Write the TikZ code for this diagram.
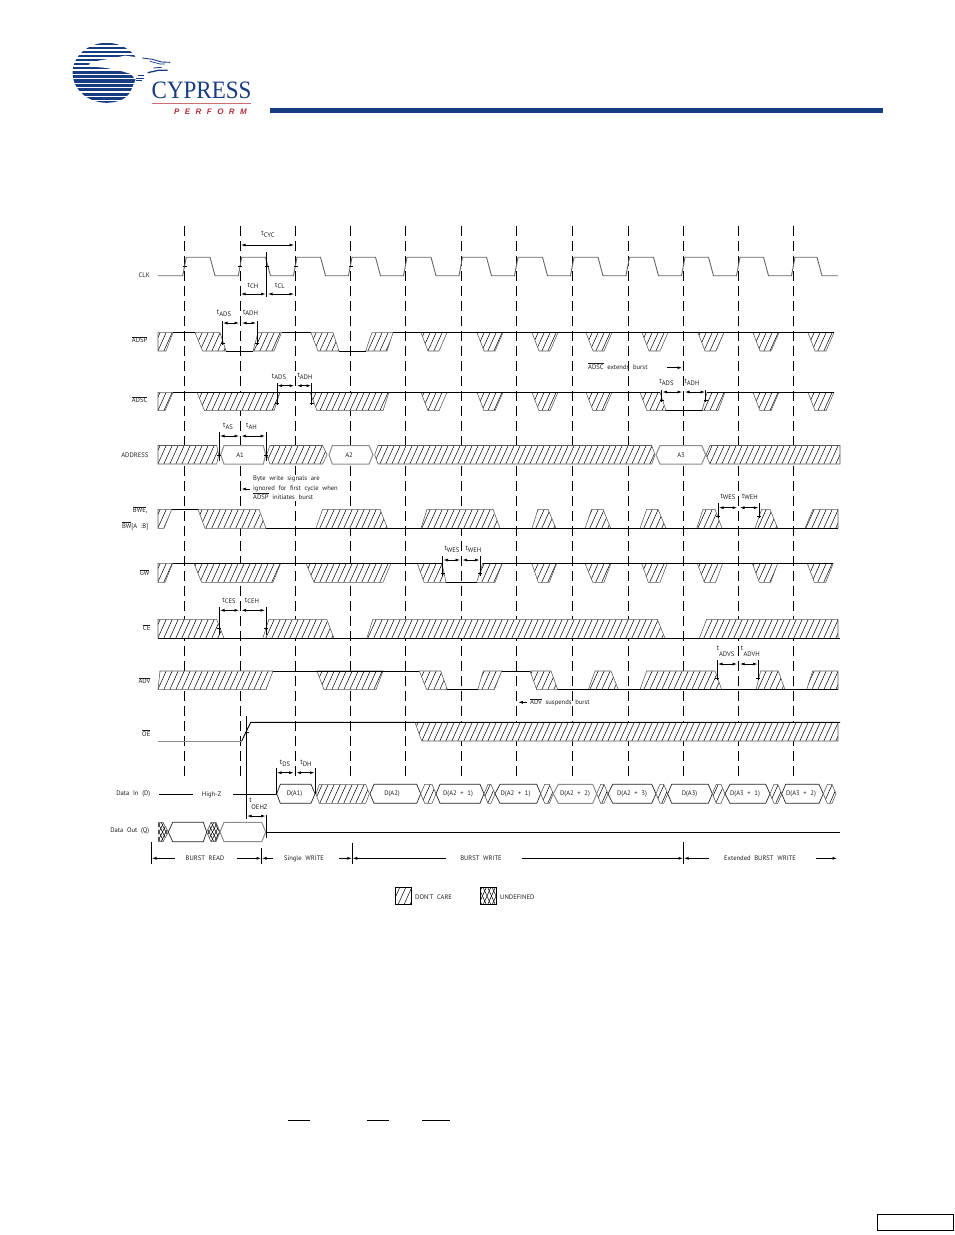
\documentclass[tikz,border=0pt]{standalone}
\usepackage{fontspec}
\setmainfont[WordSpace=2.1]{PT Sans}
\newfontfamily\cyfont{Liberation Serif}
\newfontfamily\perffont[LetterSpace=68]{Liberation Sans}
\usetikzlibrary{arrows.meta}
\definecolor{navy}{HTML}{173C82}
\definecolor{cyred}{HTML}{B5303A}
\tikzset{
 sig/.style={line width=0.9pt,black},
 clk/.style={line width=0.9pt,black!60},
 edgeln/.style={line width=0.55pt,black!65},
 hl/.style={line width=0.5pt,black},
 hexb/.style={line width=0.7pt,black!85,fill=white},
 hexg/.style={line width=1pt,black!45,fill=white},
 dimarrow/.style={line width=0.7pt,black,{Latex[length=4.5pt,width=3pt]}-{Latex[length=4.5pt,width=3pt]}},
 onearrow/.style={line width=0.7pt,black,-{Latex[length=4.5pt,width=3pt]}},
 vmark/.style={line width=0.7pt,black},
 dashln/.style={line width=0.9pt,black,dash pattern=on 9.5pt off 5.5pt},
 lab/.style={font=\fontsize{6.6}{8}\selectfont,inner sep=0pt,text=black!88},
}
\newcommand{\ovl}[1]{$\overline{\hbox{#1}}$}
\newcommand{\tlab}[1]{{\fontsize{7}{8}\selectfont t}\raisebox{-1.6pt}{#1}}
% ytop ybot xmin xmax path
\newcommand{\HPoly}[5]{%
 \fill[white] #5 -- cycle;
 \begin{scope}
 \clip #5 -- cycle;
 \pgfmathtruncatemacro\ka{floor((#3-10)/6.0)}
 \pgfmathtruncatemacro\kb{ceil((#4+10)/6.0)}
 \pgfmathsetmacro\dd{0.225*(#2-#1)}
 \foreach \k in {\ka,...,\kb}{\draw[hl] ({\k*6.0-\dd},#2) -- ({\k*6.0+\dd},#1);}
 \end{scope}
 \draw[edgeln] #5 -- cycle;
}
% ytop ybot tl bl br tr
\newcommand{\HTrap}[6]{%
 \pgfmathsetmacro\xa{min(#3,#4)}\pgfmathsetmacro\xb{max(#5,#6)}
 \HPoly{#1}{#2}{\xa}{\xb}{(#3,#1)--(#6,#1)--(#5,#2)--(#4,#2)}
}
% small hatched hexagon between two data boxes: a, b
\newcommand{\SmX}[2]{%
 \pgfmathsetmacro\xa{#1+4}\pgfmathsetmacro\xb{#2-4}
 \HPoly{784.3}{803.3}{#1}{#2}{(#1,793.8)--(\xa,784.3)--(\xb,784.3)--(#2,793.8)--(\xb,803.3)--(\xa,803.3)}
}
% hex box
\newcommand{\Bx}[7]{\draw[#7] (#1,#6) -- (#2,#5) -- (#3,#5) -- (#4,#6) -- (#3,{2*#6-#5}) -- (#2,{2*#6-#5}) -- cycle;}
\newcommand{\Vm}[4]{\draw[vmark] (#1,#2) -- (#1,#3); \draw[vmark] ({#1-2},#4) -- ({#1+2},#4);}
\newcommand{\DimA}[3]{\draw[dimarrow] (#1,#3) -- (#2,#3);}
\begin{document}
\begin{tikzpicture}[x=1pt,y=-1pt]
\useasboundingbox (0,0) rectangle (954,1235);
\fill[white] (0,0) rectangle (954,1235);

% --- logo
\begin{scope}
 \clip (106.6,72.8) ellipse [x radius=34,y radius=30];
 \foreach \yy/\th in {44/1.8,48/1.9,52/2,56/2,60/2,64/2.2,68/2.4,72.3/2.8,76.6/3.1,81/3.3,85.4/3.3,89.8/3.3,94.2/3.3,98.6/3.2,102/2.6}
  \fill[navy] (70,\yy-\th/2) rectangle (142,\yy+\th/2);
\end{scope}
\begin{scope}[shift={(65,38)},scale=1/3]
 \fill[white] (70,78) -- (100,68) -- (135,62) -- (180,53) -- (235,60) -- (262,74) -- (235,82) -- (250,95) -- (232,125) -- (215,160) -- (180,205) -- (165,195) -- (195,165) -- (212,125) -- (198,108) -- (165,98) -- (125,90) -- (85,86) -- cycle;
 \draw[navy,line width=0.9pt] (232,60) -- (262,64) -- (290,72) -- (315,73);
 \draw[navy,line width=0.7pt] (255,70) -- (285,78) -- (300,78);
 \draw[navy,line width=1.3pt] (248,104) -- (280,97) -- (308,97);
 \draw[navy,line width=0.8pt] (265,90) -- (290,88);
 \fill[navy] (218,110) rectangle (236,115);
 \fill[navy] (214,119) rectangle (238,124);
 \fill[navy] (212,127) rectangle (232,130);
\end{scope}
\node[inner sep=0pt,anchor=base west,text=navy,xscale=0.92,font=\cyfont\fontsize{25}{25}\selectfont] (cy) at (151.5,98.6) {CYPRESS};
\draw[cyred!70,line width=0.5pt] (152,102.8) -- (251,102.8);
\node[inner sep=0pt,anchor=base west,text=cyred,font=\perffont\bfseries\itshape\fontsize{8}{8}\selectfont] (perf) at (174,114) {PERFORM};
\fill[navy] (270,108) rectangle (883,113);

% --- dashed clock guides
\foreach \gx in {184,240.5,295.5,350.5,405.5,461,516.5,572.5,628,683.5,738.5,793.5}
 \draw[dashln] (\gx,226) -- (\gx,778);

% --- CLK
\draw[clk] (158,275.7) -- (182.7,275.7) -- (186.3,257.2)
 -- (210,257.2) -- (215,275.7) -- (238.3,275.7) -- (241.7,257.2)
 -- (265.5,257.2) -- (270.5,275.7) -- (293.5,275.7) -- (297,257.2)
 -- (320.5,257.2) -- (325.5,275.7) -- (348.5,275.7) -- (352,257.2)
 -- (375.5,257.2) -- (380.5,275.7) -- (403.5,275.7) -- (407,257.2)
 -- (431,257.2) -- (436,275.7) -- (459,275.7) -- (462.5,257.2)
 -- (486.5,257.2) -- (491.5,275.7) -- (514.5,275.7) -- (518,257.2)
 -- (542.5,257.2) -- (547.5,275.7) -- (570.5,275.7) -- (574,257.2)
 -- (598,257.2) -- (603,275.7) -- (626,275.7) -- (629.5,257.2)
 -- (653.5,257.2) -- (658.5,275.7) -- (681.5,275.7) -- (685,257.2)
 -- (708.5,257.2) -- (713.5,275.7) -- (736.5,275.7) -- (740,257.2)
 -- (763.5,257.2) -- (768.5,275.7) -- (791.5,275.7) -- (795,257.2)
 -- (817,257.2) -- (822,275.7) -- (838,275.7);
\foreach \gx in {184.5,240,295.5,350.5} \draw[vmark] (\gx-2,266) -- (\gx+2,266);

% --- ADSP
\HTrap{332.6}{351}{158}{158}{166}{173}
\HTrap{332.6}{351}{195}{202.6}{226}{220}
\HTrap{332.6}{351}{258}{253}{274}{281.5}
\HTrap{332.6}{351}{311}{318}{339}{333}
\HTrap{332.6}{351}{372}{365.6}{387}{393}
\foreach \tt in {421,477,532,586,642,698,753,808}
 {\pgfmathsetmacro\ta{\tt+7}\pgfmathsetmacro\tb{\tt+18}\pgfmathsetmacro\tc{\tt+26}
 \HTrap{332.6}{351}{\tt}{\ta}{\tb}{\tc}}
\draw[sig] (173,332.6) -- (195,332.6) (226,351) -- (253,351) (281.5,332.6) -- (311,332.6) (339,351) -- (365.6,351) (393,332.6) -- (834,332.6);

% --- ADSC
\HTrap{392.3}{410.7}{158}{158}{165}{173}
\HTrap{392.3}{410.7}{197}{204.5}{274}{280}
\HTrap{392.3}{410.7}{310}{317}{383}{389}
\foreach \tt in {421,477,532,586,753,808}
 {\pgfmathsetmacro\ta{\tt+7}\pgfmathsetmacro\tb{\tt+18}\pgfmathsetmacro\tc{\tt+26}
 \HTrap{392.3}{410.7}{\tt}{\ta}{\tb}{\tc}}
\HTrap{392.3}{410.7}{640}{647}{666}{660}
\HTrap{392.3}{410.7}{707}{702}{718}{725}
\draw[sig] (173,392.3) -- (660,392.3) (666,410.7) -- (702,410.7) (707,392.3) -- (834,392.3);

% --- ADDRESS
\HPoly{445.5}{464}{158}{219}{(158,445.5)--(216.7,445.5)--(218.7,454.8)--(216.7,464)--(158,464)}
\Bx{220.7}{224}{263.3}{265.7}{445.5}{454.8}{hexg}
\HPoly{445.5}{464}{266}{327}{(266.7,454.8)--(270,445.5)--(322.7,445.5)--(327,454.8)--(322.7,464)--(270,464)}
\Bx{329}{332.3}{369}{373}{445.5}{454.8}{hexg}
\HPoly{445.5}{464}{374}{655}{(374.7,454.8)--(378,445.5)--(651.7,445.5)--(655,454.8)--(651.7,464)--(378,464)}
\Bx{656}{660}{701.7}{705.7}{445.5}{454.8}{hexg}
\HPoly{445.5}{464}{706}{840}{(706,454.8)--(710,445.5)--(840,445.5)--(840,464)--(710,464)}

% --- BWE
\def\bwt{509.3}\def\bwb{528.3}
\HTrap{\bwt}{\bwb}{158}{158}{164}{171.7}
\HTrap{\bwt}{\bwb}{198}{205}{266}{259}
\HTrap{\bwt}{\bwb}{322.6}{316}{387.5}{380}
\HTrap{\bwt}{\bwb}{427}{421}{500}{493}
\HTrap{\bwt}{\bwb}{538}{532}{556}{548}
\HTrap{\bwt}{\bwb}{591.7}{585}{610.7}{603}
\HTrap{\bwt}{\bwb}{646.7}{640}{666}{658}
\HTrap{\bwt}{\bwb}{703}{696.7}{722}{715}
\HTrap{\bwt}{\bwb}{761.7}{755}{777.7}{770}
\HTrap{\bwt}{\bwb}{813}{805}{838}{838}
\draw[sig] (171.7,\bwt) -- (198,\bwt) (266,\bwb) -- (838,\bwb);

% --- GW
\def\gwt{563.3}\def\gwb{582.3}
\HTrap{\gwt}{\gwb}{158}{158}{165}{172.7}
\HTrap{\gwt}{\gwb}{194}{201.6}{273}{280.7}
\HTrap{\gwt}{\gwb}{306}{314}{383}{391}
\HTrap{\gwt}{\gwb}{417.3}{424}{446}{442}
\HTrap{\gwt}{\gwb}{482.7}{476.7}{495}{502.3}
\HTrap{\gwt}{\gwb}{531.7}{538.3}{549.3}{556.7}
\HTrap{\gwt}{\gwb}{585}{592.7}{604}{611}
\HTrap{\gwt}{\gwb}{641.7}{648.3}{660}{667.3}
\HTrap{\gwt}{\gwb}{697.3}{704.3}{715.7}{722.7}
\HTrap{\gwt}{\gwb}{752.3}{759.3}{770.7}{777.7}
\HTrap{\gwt}{\gwb}{807.3}{814.3}{825.7}{833.3}
\draw[sig] (172.7,\gwt) -- (442,\gwt) (446,\gwb) -- (476.7,\gwb) (482.7,\gwt) -- (833.3,\gwt);

% --- CE
\def\cet{619.3}\def\ceb{638.3}
\HTrap{\cet}{\ceb}{158}{158}{224}{216.7}
\HTrap{\cet}{\ceb}{269}{262.7}{334}{326.7}
\HTrap{\cet}{\ceb}{373}{366.7}{665}{657.3}
\HTrap{\cet}{\ceb}{706.7}{699.3}{838}{838}
\draw[sig] (158,\ceb) -- (840,\ceb);

% --- ADV
\def\avt{671}\def\avb{689.6}
\HTrap{\avt}{\avb}{160}{158}{266}{273}
\HTrap{\avt}{\avb}{317}{324}{376}{383}
\HTrap{\avt}{\avb}{419.3}{426.7}{447.3}{440.7}
\HTrap{\avt}{\avb}{483.3}{477.7}{494.3}{501.7}
\HTrap{\avt}{\avb}{530}{536.7}{557.7}{551}
\HTrap{\avt}{\avb}{595}{588.3}{618.3}{611}
\HTrap{\avt}{\avb}{646.7}{640}{721.7}{715}
\HTrap{\avt}{\avb}{760.7}{756}{785}{778.3}
\HTrap{\avt}{\avb}{812.7}{806.7}{838}{838}
\draw[sig] (273,\avt) -- (419.3,\avt) (447.3,\avb) -- (477.7,\avb) (501.7,\avt) -- (530,\avt) (557.7,\avb) -- (838,\avb);

% --- OE
\HTrap{722.3}{741}{415}{421.7}{838}{838}
\draw[line width=0.9pt,black!45] (158,741) -- (241.7,741);
\draw[sig] (241.7,741) -- (250.7,722.3) -- (840,722.3);

% --- Data In
\draw[sig] (159.3,794.3) -- (193.3,794.3) (233,794.3) -- (276.7,794.3);
\Bx{276.7}{280.3}{311}{315}{784.3}{793.8}{hexb}
\HPoly{784.3}{803.3}{316}{370}{(316,793.8)--(319.3,784.3)--(365.7,784.3)--(369.3,793.8)--(365.7,803.3)--(319.3,803.3)}
\Bx{370}{374}{416.7}{420.7}{784.3}{793.8}{hexb}
\SmX{420.7}{436}
\Bx{436}{440}{480}{484}{784.3}{793.8}{hexb}
\SmX{484}{495}
\Bx{495}{500}{536.7}{540.7}{784.3}{793.8}{hexb}
\SmX{540.7}{553.3}
\Bx{553.3}{558.3}{592.7}{596.7}{784.3}{793.8}{hexg}
\SmX{596.7}{608}
\Bx{608}{612.7}{651.7}{656}{784.3}{793.8}{hexb}
\SmX{656}{667.7}
\Bx{667.7}{671.7}{708.3}{712.3}{784.3}{793.8}{hexb}
\SmX{712.3}{725}
\Bx{725}{730}{765.7}{770}{784.3}{793.8}{hexb}
\SmX{770}{781.7}
\Bx{781.7}{785.7}{819}{823.3}{784.3}{793.8}{hexb}
\SmX{823.3}{836}

% --- Data Out
\begin{scope}
 \clip (158,822.3) -- (163,822.3) -- (168.3,832) -- (163,841.7) -- (158,841.7) -- cycle;
 \foreach \cc in {140,143.5,...,190} {\draw[hl] (\cc,842) -- (\cc+10,822); \draw[hl] (\cc,822) -- (\cc+10,842);}
\end{scope}
\draw[edgeln] (163,822.3) -- (168.3,832) -- (163,841.7) (158,822.3) -- (163,822.3) (158,841.7) -- (163,841.7);
\Bx{168.3}{172.7}{203.3}{206.7}{822.3}{832}{hexb}
\begin{scope}
 \clip (206.7,832) -- (211,822.3) -- (216,822.3) -- (220,832) -- (216,841.7) -- (211,841.7) -- cycle;
 \foreach \cc in {190,193.5,...,230} {\draw[hl] (\cc,842) -- (\cc+10,822); \draw[hl] (\cc,822) -- (\cc+10,842);}
\end{scope}
\draw[edgeln] (206.7,832) -- (211,822.3) -- (216,822.3) -- (220,832) -- (216,841.7) -- (211,841.7) -- cycle;
\Bx{220}{224}{261.7}{265.7}{822.3}{832}{hexg}
\draw[sig] (265.7,832.3) -- (840,832.3);

% --- timing marks
\DimA{241}{294}{245}
\draw[vmark] (266.5,252) -- (266.5,296.7); \draw[vmark] (264.5,266) -- (268.5,266);
\DimA{241}{265.5}{294}
\DimA{268}{294}{294}
\Vm{222.5}{321}{345}{343}\Vm{257}{321}{345}{343}
\DimA{223}{239}{323}\DimA{242}{256}{323}
\Vm{277}{383}{405}{403}\Vm{311.5}{383}{405}{403}
\DimA{277.5}{294}{385.7}\DimA{297}{311}{385.7}
\Vm{219}{432}{460.6}{455}\Vm{266}{432}{460.6}{455}
\DimA{220}{239}{436}\DimA{241.5}{265}{436}
\Vm{661.7}{390}{401.7}{400}\Vm{705.7}{390}{401.7}{400}
\DimA{662.5}{682}{392}\DimA{685}{705}{392}
\Vm{718.3}{503}{518}{516}\Vm{759}{503}{518}{516}
\DimA{719}{737}{507.7}\DimA{740}{758.3}{507.7}
\Vm{442.7}{556}{576}{573}\Vm{480.3}{556}{576}{573}
\DimA{443.5}{460}{560}\DimA{462.5}{479.5}{560}
\Vm{219}{606.7}{635}{628}\Vm{266}{606.7}{635}{628}
\DimA{220}{239}{610.3}\DimA{241.5}{265}{610.3}
\Vm{717.3}{660}{680}{678}\Vm{758.3}{660}{680}{678}
\DimA{718}{737}{664}\DimA{740}{757.5}{664}
\draw[vmark] (246.5,716) -- (246.5,819); \draw[vmark] (244.5,732) -- (248.5,732);
\draw[vmark] (266.3,815) -- (266.3,838);
\DimA{247.2}{265.5}{816}
\draw[vmark] (276.5,768) -- (276.5,794); \draw[vmark] (315,768) -- (315,794);
\DimA{277}{293.5}{772.7}\DimA{296.5}{314.5}{772.7}

\draw[onearrow] (250,489) -- (241.5,489);
\draw[onearrow] (667,367.7) -- (682,367.7);
\draw[onearrow] (527,702.3) -- (518.3,702.3);

% --- phase bar
\draw[vmark] (151.3,842) -- (151.3,864);
\draw[vmark] (261.5,848) -- (261.5,864);
\draw[vmark] (352.3,842.7) -- (352.3,864);
\draw[vmark] (683.5,842) -- (683.5,864);
\draw[onearrow] (175,858.3) -- (152,858.3);
\draw[onearrow] (236.7,858.3) -- (261,858.3);
\draw[onearrow] (273,858.3) -- (262,858.3);
\draw[onearrow] (339,858.3) -- (351.8,858.3);
\draw[onearrow] (445.5,858.3) -- (352.8,858.3);
\draw[onearrow] (521.7,858.3) -- (683,858.3);
\draw[onearrow] (709,858.3) -- (684,858.3);
\draw[onearrow] (816,858.3) -- (837,858.3);

% --- legend
\HPoly{887}{904.5}{395.5}{411.5}{(395.5,887)--(411.5,887)--(411.5,904.5)--(395.5,904.5)}
\draw[line width=0.9pt] (395.5,887) rectangle (411.5,904.5);
\begin{scope}
 \clip (480.5,887) rectangle (496,904.5);
 \foreach \cc in {465,469.5,...,500} {\draw[hl] (\cc,905) -- (\cc+8,887); \draw[hl] (\cc,887) -- (\cc+8,905);}
\end{scope}
\draw[line width=0.9pt] (480.5,887) rectangle (496,904.5);

% --- masked-page leftovers
\draw[line width=1pt] (288,1120.3) -- (309.5,1120.3);
\draw[line width=1pt] (367,1120.3) -- (389,1120.3);
\draw[line width=1pt] (422,1120.3) -- (450,1120.3);
\draw[line width=1pt] (877.5,1214.5) rectangle (953,1230);

% --- signal names
\node[lab,anchor=east] (lclk) at (150,275.3) {CLK};
\node[lab,anchor=east] (ladsp) at (147.5,339.5) {\ovl{ADSP}};
\node[lab,anchor=east] (ladsc) at (147.5,399.5) {\ovl{ADSC}};
\node[lab,anchor=east] (laddr) at (148.5,455.5) {ADDRESS};
\node[lab,anchor=east] (lbwe) at (147.5,510) {\ovl{BWE},};
\node[lab,anchor=east] (lbw) at (148.5,526) {\ovl{BW}[A :B]};
\node[lab,anchor=east] (lgw) at (149.5,572.5) {\ovl{GW}};
\node[lab,anchor=east] (lce) at (150.5,627.5) {\ovl{CE}};
\node[lab,anchor=east] (ladv) at (150.5,680.5) {\ovl{ADV}};
\node[lab,anchor=east] (loe) at (150.5,733) {\ovl{OE}};
\node[lab,anchor=east] (ldin) at (150.5,793.5) {Data In (D)};
\node[lab,anchor=east] (ldout) at (149.5,831) {Data Out (Q)};

% --- box texts
\node[lab] (ta1) at (240,455.3) {A1};
\node[lab] (ta2) at (349,455.3) {A2};
\node[lab] (ta3) at (681,455.5) {A3};
\node[lab] (th) at (211.5,795) {High-Z};
\node[lab] (d1) at (294.5,794.3) {D(A1)};
\node[lab] (d2) at (392,794.3) {D(A2)};
\node[lab] (d3) at (458,794.3) {D(A2 + 1)};
\node[lab] (d4) at (515.5,794.3) {D(A2 + 1)};
\node[lab] (d5) at (575,794.3) {D(A2 + 2)};
\node[lab] (d6) at (632,794.3) {D(A2 + 3)};
\node[lab] (d7) at (689.5,794.3) {D(A3)};
\node[lab] (d8) at (745,794.3) {D(A3 + 1)};
\node[lab] (d9) at (801,794.3) {D(A3 + 2)};

% --- timing labels
\node[lab] (tcyc) at (268,234.5) {\tlab{CYC}};
\node[lab] (tch) at (253,286) {\tlab{CH}};
\node[lab] (tcl) at (280,286) {\tlab{CL}};
\node[lab] (t1) at (224,313.5) {\tlab{ADS}};
\node[lab] (t2) at (250.5,313) {\tlab{ADH}};
\node[lab] (t3) at (279,377) {\tlab{ADS}};
\node[lab] (t4) at (305,376.5) {\tlab{ADH}};
\node[lab] (t5) at (228,426.5) {\tlab{AS}};
\node[lab] (t6) at (251.5,426.5) {\tlab{AH}};
\node[lab] (t7) at (666.5,382.5) {\tlab{ADS}};
\node[lab] (t8) at (692,382.5) {\tlab{ADH}};
\node[lab] (t9) at (728,497) {\tlab{WES}};
\node[lab] (t10) at (750,497) {\tlab{WEH}};
\node[lab] (t11) at (452,549.5) {\tlab{WES}};
\node[lab] (t12) at (473.5,549.5) {\tlab{WEH}};
\node[lab] (t13) at (229,601) {\tlab{CES}};
\node[lab] (t14) at (252,601) {\tlab{CEH}};
\node[lab] (t15) at (285,763.5) {\tlab{DS}};
\node[lab] (t16) at (306,763.5) {\tlab{DH}};
\node[lab,font=\fontsize{7}{8}\selectfont] (t17a) at (718,648.5) {t};
\node[lab] (t17) at (726.7,654) {ADVS};
\node[lab,font=\fontsize{7}{8}\selectfont] (t18a) at (742,648.5) {t};
\node[lab] (t18) at (751.7,654) {ADVH};
\node[lab,font=\fontsize{7}{8}\selectfont] (t19a) at (250.5,800) {t};
\node[lab] (t19) at (259.5,807) {OEHZ};

% --- notes
\node[lab,anchor=north west,align=left,fill=white,inner sep=1pt,font=\fontsize{6.6}{9.7}\selectfont] (byte) at (252,474.5) {Byte write signals are\\ignored for first cycle when\\\ovl{ADSP} initiates burst};
\node[lab,anchor=west] (ext) at (588,366.3) {\ovl{ADSC} extends burst};
\node[lab,anchor=west] (susp) at (530,702.3) {\ovl{ADV} suspends burst};

% --- phase labels
\node[lab] (p1) at (205,858.5) {BURST READ};
\node[lab] (p2) at (304,858.5) {Single WRITE};
\node[lab] (p3) at (481,858.5) {BURST WRITE};
\node[lab] (p4) at (760,858.5) {Extended BURST WRITE};
\node[lab,anchor=west] (dc) at (415,897) {DON'T CARE};
\node[lab,anchor=west] (ud) at (500,897) {UNDEFINED};
\end{tikzpicture}
\end{document}
